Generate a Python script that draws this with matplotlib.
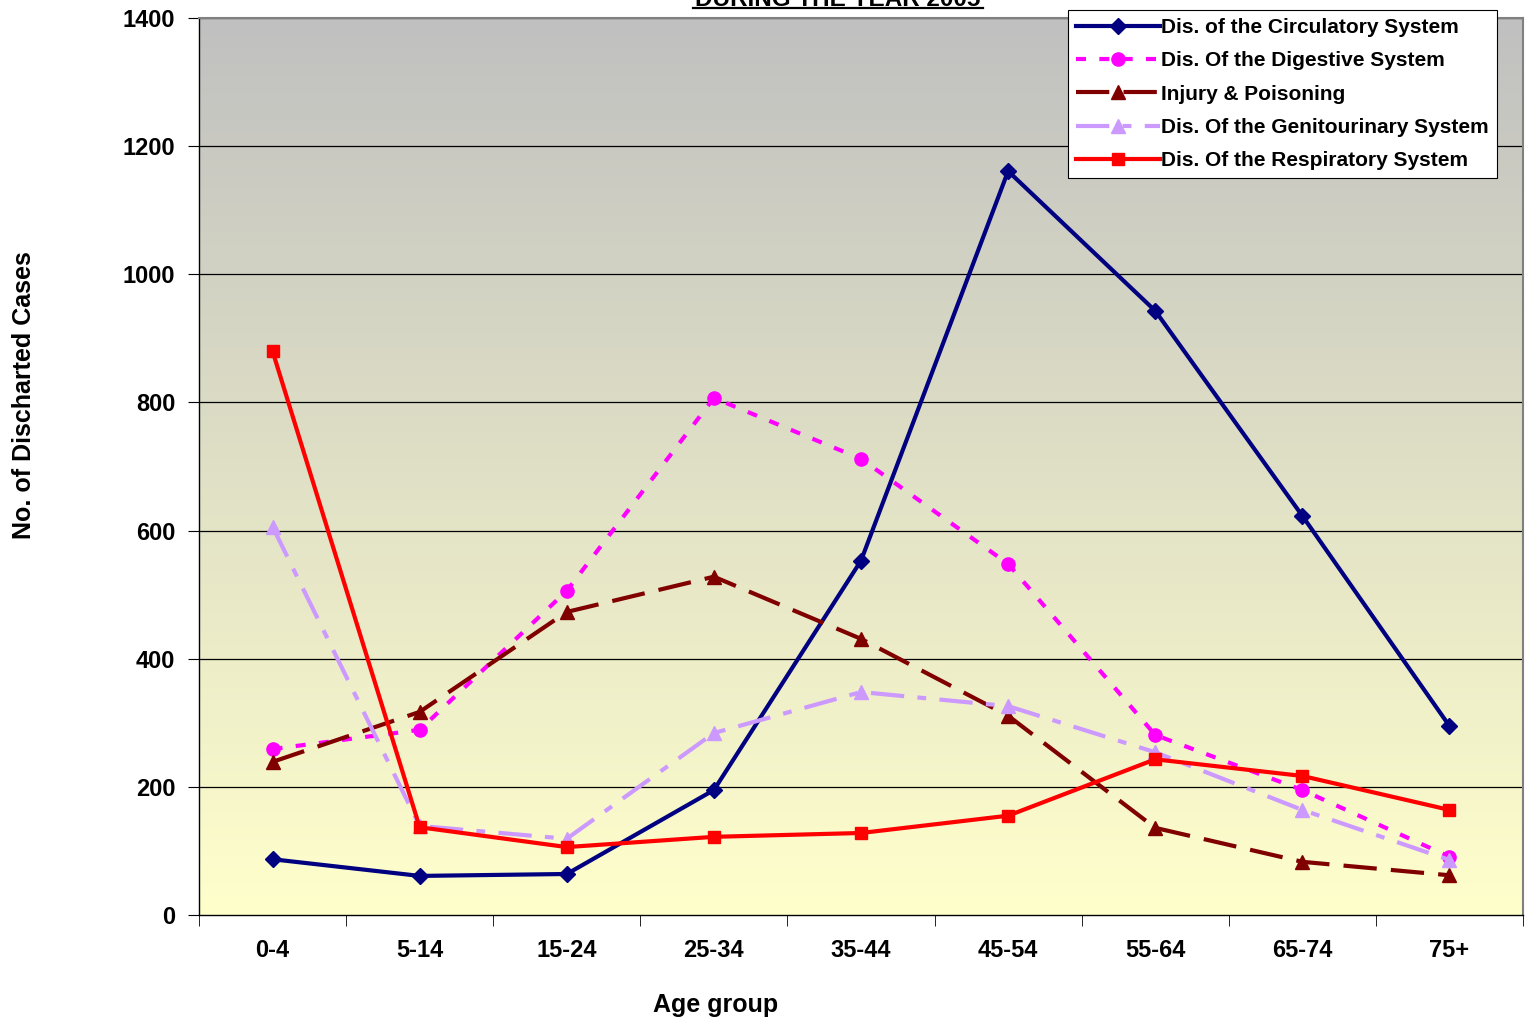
import numpy as np
import matplotlib
matplotlib.use("Agg")
import matplotlib.pyplot as plt
from matplotlib.colors import LinearSegmentedColormap
from matplotlib.lines import Line2D

age_groups = ["0-4", "5-14", "15-24", "25-34", "35-44", "45-54", "55-64", "65-74", "75+"]
circulatory = [87, 61, 64, 195, 553, 1161, 943, 623, 295]
digestive = [259, 289, 506, 807, 712, 548, 281, 195, 91]
injury = [239, 317, 473, 528, 431, 311, 136, 83, 62]
genitourinary = [606, 139, 119, 284, 348, 326, 254, 164, 86]
respiratory = [880, 137, 106, 122, 128, 155, 243, 217, 164]
y_ticks = [0, 200, 400, 600, 800, 1000, 1200, 1400]

plt.rcParams['font.family'] = ['Liberation Sans', 'DejaVu Sans']
plt.rcParams['font.weight'] = 'bold'

fig = plt.figure(figsize=(15.25, 10.21), dpi=100)
ax = fig.add_axes([199/1525, 106/1021, (1523-199)/1525, (915-18)/1021])

x = np.arange(len(age_groups))
ax.set_xlim(-0.5, len(age_groups) - 0.5)
ax.set_ylim(0, 1400)

# gradient background
cmap = LinearSegmentedColormap.from_list("bg", ["#ffffcc", "#c0c0c0"])
grad = np.linspace(0, 1, 256).reshape(-1, 1)
ax.imshow(grad, extent=[-0.5, len(age_groups) - 0.5, 0, 1400], origin='lower',
          aspect='auto', cmap=cmap, zorder=0)

for yv in y_ticks[1:]:
    ax.axhline(yv, color='black', lw=0.9, zorder=1)

lw = 3.0
series = [
    ("Dis. of the Circulatory System", circulatory, dict(color='#000080', ls='-', marker='D', ms=8)),
    ("Dis. Of the Digestive System", digestive, dict(color='#ff00ff', ls=(0, (2.4, 3.2)), marker='o', ms=9.5)),
    ("Injury & Poisoning", injury, dict(color='#800000', ls=(0, (8, 3.4)), marker='^', ms=10)),
    ("Dis. Of the Genitourinary System", genitourinary, dict(color='#cc99ff', ls=(0, (8, 3.2, 2.1, 3.2)), marker='^', ms=9.5)),
    ("Dis. Of the Respiratory System", respiratory, dict(color='#ff0000', ls='-', marker='s', ms=8)),
]
handles = []
for label, vals, st in series:
    ax.plot(x, vals, color=st['color'], linestyle=st['ls'], lw=lw, marker=st['marker'],
            markersize=st['ms'], markeredgecolor=st['color'], markerfacecolor=st['color'],
            zorder=3, clip_on=False)
    handles.append(Line2D([], [], color=st['color'], linestyle=st['ls'], lw=lw, marker=st['marker'],
                          markersize=st['ms'], markeredgecolor=st['color'], markerfacecolor=st['color'],
                          label=label))

ax.set_xticks(x)
ax.set_xticklabels(age_groups, fontsize=17, fontweight='bold')
ax.set_xticks(np.arange(-0.5, len(age_groups)), minor=True)
ax.tick_params(axis='x', which='major', length=0, pad=17)
ax.tick_params(axis='x', which='minor', length=8, direction='out', color='black')
ax.set_yticks(y_ticks)
ax.set_yticklabels([str(v) for v in y_ticks], fontsize=17, fontweight='bold')
ax.tick_params(axis='y', length=8, direction='out', pad=9)

for s in ['left', 'bottom']:
    ax.spines[s].set_color('black')
    ax.spines[s].set_linewidth(1.0)
for s in ['top', 'right']:
    ax.spines[s].set_color('#808080')
    ax.spines[s].set_linewidth(1.5)

ax.set_ylabel("No. of Discharted Cases", fontsize=18, fontweight='bold')
ax.set_xlabel("Age group", fontsize=18, fontweight='bold')
ax.xaxis.set_label_coords((716-199)/(1523-199), -(993-915)/(915-18))
ax.yaxis.set_label_coords(-(199-36)/(1523-199), (915-395)/(915-18))

leg = ax.legend(handles=handles, loc='upper left', bbox_to_anchor=((1068-199)/(1523-199), 1 + 8/897),
                frameon=True, fancybox=False, edgecolor='black', framealpha=1,
                handlelength=4.0, handletextpad=0.05, borderpad=0.4, labelspacing=0.68,
                borderaxespad=0, prop={'weight': 'bold', 'size': 15})
leg.get_frame().set_linewidth(0.8)
leg.set_zorder(5)

# Title (mostly cut off at the top)
t = fig.text(838/1525, 1 - 6/1021, "DURING THE YEAR 2005", ha='center', va='baseline',
             fontsize=17.5, fontweight='bold')
fig.add_artist(Line2D([693/1525, 983/1525], [1 - 8.5/1021, 1 - 8.5/1021], color='black', lw=1.6))

fig.savefig("out.png", dpi=100, facecolor='white')
